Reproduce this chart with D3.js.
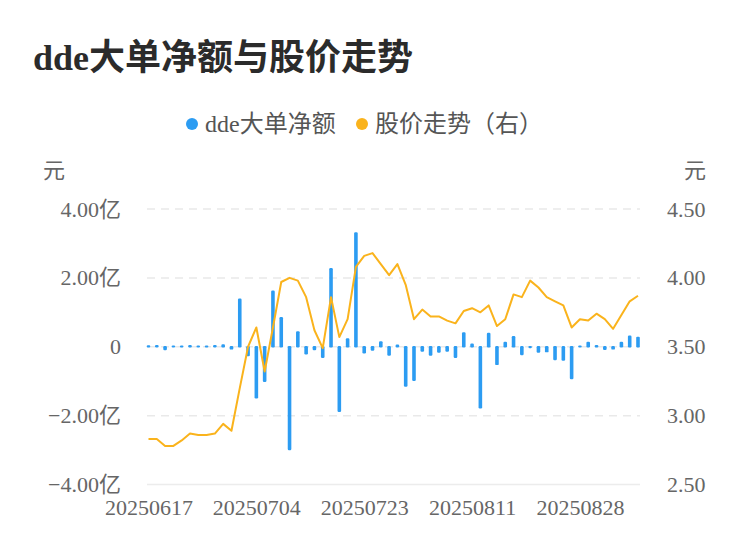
<!DOCTYPE html>
<html>
<head>
<meta charset="utf-8">
<script src="https://cdn.jsdelivr.net/npm/d3@7"></script>
<style>
  body { margin: 0; background: #fff; }
  svg { font-family: "Liberation Serif", "Noto Sans CJK SC", serif; }
</style>
</head>
<body>
<div id="chart"></div>
<script>
const svgWidth = 750;
const svgHeight = 558;

// trading days 20250617 .. 20250908
const dates = [
  "20250617","20250618","20250619","20250620","20250623","20250624","20250625","20250626","20250627","20250630",
  "20250701","20250702","20250703","20250704","20250707","20250708","20250709","20250710","20250711","20250714",
  "20250715","20250716","20250717","20250718","20250721","20250722","20250723","20250724","20250725","20250728",
  "20250729","20250730","20250731","20250801","20250804","20250805","20250806","20250807","20250808","20250811",
  "20250812","20250813","20250814","20250815","20250818","20250819","20250820","20250821","20250822","20250825",
  "20250826","20250827","20250828","20250829","20250901","20250902","20250903","20250904","20250905","20250908"
];

// dde net amount, in 亿
const ddeValues = [
  0.02, 0.03, -0.08, 0.01, 0.01, 0.03, 0.01, 0.01, 0.03, 0.05,
  -0.06, 1.38, -0.25, -1.48, -1.00, 1.61, 0.84, -2.98, 0.43, -0.20,
  -0.08, -0.30, 2.26, -1.87, 0.22, 3.30, -0.17, -0.09, 0.14, -0.24,
  0.04, -1.14, -0.97, -0.12, -0.24, -0.15, -0.12, -0.30, 0.40, 0.07,
  -1.77, 0.38, -0.51, 0.12, 0.29, -0.22, -0.02, -0.15, -0.14, -0.37,
  -0.38, -0.92, 0.01, 0.12, 0.03, -0.07, -0.06, 0.12, 0.30, 0.27
];

// close price, 元
const priceValues = [
  2.83, 2.83, 2.78, 2.78, 2.82, 2.87, 2.86, 2.86, 2.87, 2.94,
  2.89, 3.20, 3.50, 3.64, 3.32, 3.64, 3.97, 4.00, 3.98, 3.86,
  3.62, 3.49, 3.86, 3.57, 3.70, 4.08, 4.16, 4.18, 4.10, 4.02,
  4.10, 3.95, 3.70, 3.77, 3.72, 3.72, 3.69, 3.67, 3.76, 3.78,
  3.75, 3.80, 3.65, 3.70, 3.88, 3.86, 3.98, 3.93, 3.86, 3.83,
  3.80, 3.64, 3.70, 3.69, 3.74, 3.70, 3.63, 3.73, 3.83, 3.87
];

const leftTicks = [4, 2, 0, -2, -4];
const rightTicks = [4.5, 4.0, 3.5, 3.0, 2.5];
const xTickLabels = ["20250617", "20250704", "20250723", "20250811", "20250828"];

const blue = "#2c9cf2";
const orange = "#fab31c";
const fontStack = "\"Liberation Serif\", \"Noto Sans CJK SC\", serif";

const plot = { left: 147, right: 640, top: 209, bottom: 484.5 };

const svg = d3.select("#chart")
  .append("svg")
  .attr("width", svgWidth)
  .attr("height", svgHeight);

// title
svg.append("text")
  .attr("x", 33)
  .attr("y", 70)
  .attr("font-size", 36)
  .attr("font-weight", "bold")
  .attr("font-family", fontStack)
  .attr("fill", "#2b2b2b")
  .text("dde大单净额与股价走势");

// legend
const legend = svg.append("g")
  .attr("font-size", 24)
  .attr("font-family", fontStack)
  .attr("fill", "#555");
legend.append("circle").attr("cx", 192).attr("cy", 124).attr("r", 6).attr("fill", blue);
legend.append("text").attr("x", 205).attr("y", 124).attr("dy", "0.35em").text("dde大单净额");
legend.append("circle").attr("cx", 362).attr("cy", 124).attr("r", 6).attr("fill", orange);
legend.append("text").attr("x", 375).attr("y", 124).attr("dy", "0.35em").text("股价走势（右）");

// scales
const x = d3.scalePoint()
  .domain(dates)
  .range([148.5, 638]);

const yLeft = d3.scaleLinear()
  .domain([-4, 4])
  .range([plot.bottom, plot.top]);

const yRight = d3.scaleLinear()
  .domain([2.5, 4.5])
  .range([plot.bottom, plot.top]);

// unit labels
svg.append("text").attr("x", 54).attr("y", 170).attr("dy", "0.35em")
  .attr("text-anchor", "middle").attr("font-size", 22).attr("font-family", fontStack)
  .attr("fill", "#666").text("元");
svg.append("text").attr("x", 695).attr("y", 170).attr("dy", "0.35em")
  .attr("text-anchor", "middle").attr("font-size", 22).attr("font-family", fontStack)
  .attr("fill", "#666").text("元");

// grid lines
svg.append("g")
  .selectAll("line")
  .data(leftTicks)
  .enter()
  .append("line")
  .attr("x1", plot.left)
  .attr("x2", plot.right)
  .attr("y1", d => yLeft(d))
  .attr("y2", d => yLeft(d))
  .attr("stroke", d => d === -4 ? "#ececec" : "#e9e9e9")
  .attr("stroke-width", 1.5)
  .attr("stroke-dasharray", d => d === -4 ? null : "8,6");

// left axis
const leftAxis = d3.axisLeft(yLeft)
  .tickValues(leftTicks)
  .tickSize(0)
  .tickPadding(0)
  .tickFormat(d => d === 0 ? "0" : d3.format(".2f")(d) + "亿");

svg.append("g")
  .attr("transform", "translate(121,0)")
  .call(leftAxis)
  .call(g => g.select(".domain").remove())
  .selectAll("text")
  .attr("font-size", 22)
  .attr("font-family", fontStack)
  .attr("fill", "#666");

// right axis
const rightAxis = d3.axisRight(yRight)
  .tickValues(rightTicks)
  .tickSize(0)
  .tickPadding(0)
  .tickFormat(d3.format(".2f"));

svg.append("g")
  .attr("transform", "translate(667,0)")
  .call(rightAxis)
  .call(g => g.select(".domain").remove())
  .selectAll("text")
  .attr("font-size", 22)
  .attr("font-family", fontStack)
  .attr("fill", "#666");

// bottom axis
const bottomAxis = d3.axisBottom(x)
  .tickValues(xTickLabels)
  .tickSize(0)
  .tickPadding(0);

svg.append("g")
  .attr("transform", "translate(0,499)")
  .call(bottomAxis)
  .call(g => g.select(".domain").remove())
  .selectAll("text")
  .attr("font-size", 22)
  .attr("font-family", fontStack)
  .attr("fill", "#666");

// bars
const barW = 3.6;
svg.append("g")
  .selectAll("rect")
  .data(ddeValues)
  .enter()
  .append("rect")
  .attr("x", (d, i) => x(dates[i]) - barW / 2)
  .attr("y", d => Math.min(yLeft(d), yLeft(0)) - 0.8)
  .attr("width", barW)
  .attr("height", d => Math.abs(yLeft(d) - yLeft(0)) + 1.6)
  .attr("rx", 1.2)
  .attr("fill", blue);

// price line
const line = d3.line()
  .x((d, i) => x(dates[i]))
  .y(d => yRight(d));

svg.append("path")
  .datum(priceValues)
  .attr("d", line)
  .attr("fill", "none")
  .attr("stroke", orange)
  .attr("stroke-width", 2)
  .attr("stroke-linejoin", "round");
</script>
</body>
</html>
